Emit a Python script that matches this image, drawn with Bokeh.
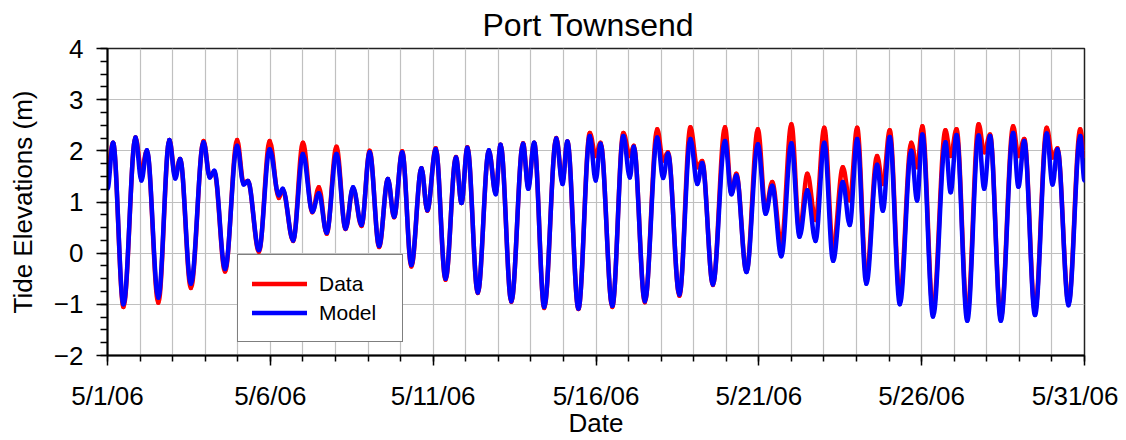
from bokeh.plotting import figure
from bokeh.models import FixedTicker, Range1d, Legend, ColumnDataSource
from bokeh.embed import file_html
from bokeh.resources import INLINE

# time in days after 5/1/06 00:00 (turning points)
days = [0.00, 0.17, 0.49, 0.86, 1.04, 1.21, 1.56, 1.90, 2.08, 2.23,
        2.56, 2.95, 3.14, 3.28, 3.61, 3.98, 4.18, 4.31, 4.65, 4.98,
        5.26, 5.38, 5.70, 6.00, 6.29, 6.49, 6.73, 7.03, 7.31, 7.54,
        7.80, 8.05, 8.34, 8.61, 8.80, 9.05, 9.33, 9.64, 9.82, 10.08,
        10.38, 10.70, 10.87, 11.05, 11.37, 11.71, 11.92, 12.07, 12.40, 12.76,
        12.92, 13.10, 13.41, 13.78, 13.97, 14.12, 14.46, 14.81, 14.99, 15.14,
        15.50, 15.84, 16.04, 16.16, 16.50, 16.88, 17.06, 17.21, 17.56, 17.90,
        18.11, 18.26, 18.59, 18.96, 19.16, 19.31, 19.62, 19.97, 20.21, 20.41,
        20.69, 21.00, 21.25, 21.49, 21.74, 22.01, 22.28, 22.58, 22.79, 23.02,
        23.30, 23.63, 23.81, 24.02, 24.33, 24.68, 24.86, 25.02, 25.35, 25.73,
        25.89, 26.07, 26.40, 26.75, 26.92, 27.10, 27.43, 27.81, 27.97, 28.15,
        28.48, 28.84, 29.02, 29.17, 29.51, 29.87, 30.00]

model = [1.26, 2.16, -1.00, 2.26, 1.42, 2.01, -0.87, 2.21, 1.46, 1.84,
         -0.60, 2.17, 1.48, 1.61, -0.31, 2.10, 1.34, 1.41, 0.06, 2.03,
         1.13, 1.26, 0.25, 1.94, 0.81, 1.17, 0.40, 1.94, 0.48, 1.29,
         0.55, 1.97, 0.14, 1.45, 0.71, 1.97, -0.23, 1.66, 0.84, 2.03,
         -0.50, 1.87, 0.98, 2.06, -0.77, 2.01, 1.15, 2.12, -0.94, 2.14,
         1.26, 2.16, -1.05, 2.24, 1.35, 2.18, -1.08, 2.29, 1.42, 2.14,
         -1.03, 2.29, 1.48, 2.08, -0.94, 2.26, 1.47, 1.95, -0.81, 2.23,
         1.35, 1.76, -0.61, 2.19, 1.15, 1.52, -0.37, 2.13, 0.77, 1.32,
         -0.06, 2.15, 0.32, 1.23, 0.24, 2.16, -0.15, 1.39, 0.55, 2.23,
         -0.60, 1.73, 0.83, 2.27, -1.00, 2.00, 1.03, 2.32, -1.24, 2.17,
         1.19, 2.31, -1.32, 2.30, 1.26, 2.29, -1.32, 2.35, 1.30, 2.19,
         -1.21, 2.34, 1.34, 2.03, -1.02, 2.29, 1.42]

data = [1.60, 2.16, -1.05, 2.26, 1.62, 2.00, -0.97, 2.21, 1.52, 1.84,
        -0.68, 2.19, 1.50, 1.58, -0.36, 2.21, 1.37, 1.41, 0.03, 2.19,
        1.08, 1.24, 0.24, 2.16, 0.80, 1.29, 0.38, 2.08, 0.47, 1.27,
        0.53, 2.00, 0.12, 1.45, 0.70, 1.99, -0.26, 1.66, 0.83, 2.05,
        -0.52, 1.88, 0.98, 2.07, -0.78, 2.00, 1.18, 2.12, -0.95, 2.15,
        1.30, 2.16, -1.07, 2.25, 1.40, 2.18, -1.09, 2.35, 1.90, 2.16,
        -1.05, 2.35, 1.90, 2.10, -0.96, 2.42, 1.81, 1.97, -0.83, 2.46,
        1.68, 1.80, -0.62, 2.46, 1.17, 1.55, -0.36, 2.42, 0.85, 1.39,
        0.18, 2.52, 0.40, 1.55, 0.65, 2.45, 0.10, 1.68, 1.03, 2.45,
        -0.45, 1.90, 1.35, 2.40, -0.85, 2.16, 1.68, 2.48, -1.10, 2.40,
        1.90, 2.42, -1.19, 2.52, 1.97, 2.32, -1.26, 2.48, 1.90, 2.23,
        -1.13, 2.45, 1.87, 2.05, -0.97, 2.42, 1.90]

tick_days = [0, 5, 10, 15, 20, 25, 30]
tick_labels = ["5/1/06", "5/6/06", "5/11/06", "5/16/06", "5/21/06", "5/26/06", "5/31/06"]
y_ticks = [-2, -1, 0, 1, 2, 3, 4]

FONT = "Liberation Sans"


def tide_source(t, v, k=0.36):
    """Curve pieces between successive turning points (flat tangents at each
    high/low water), drawn with Bokeh's bezier glyph."""
    x0, y0, x1, y1, cx0, cy0, cx1, cy1 = [], [], [], [], [], [], [], []
    for i in range(len(t) - 1):
        dt = t[i + 1] - t[i]
        x0.append(t[i]); y0.append(v[i])
        x1.append(t[i + 1]); y1.append(v[i + 1])
        cx0.append(t[i] + k * dt); cy0.append(v[i])
        cx1.append(t[i + 1] - k * dt); cy1.append(v[i + 1])
    return ColumnDataSource(dict(x0=x0, y0=y0, x1=x1, y1=y1,
                                 cx0=cx0, cy0=cy0, cx1=cx1, cy1=cy1))


p = figure(width=1118, height=440, output_backend="svg", toolbar_location=None,
           x_range=Range1d(0, 30), y_range=Range1d(-2, 4),
           min_border_left=107, min_border_right=34, min_border_top=47,
           min_border_bottom=83)

p.title.text = "Port Townsend"
p.title.align = "left"
p.title.offset = 375
p.title.vertical_align = "middle"
p.title.text_font = FONT
p.title.text_font_size = "32px"
p.title.text_font_style = "normal"
p.title.text_color = "black"

p.outline_line_color = "#222222"
p.outline_line_width = 1.5

# axes
p.xaxis.ticker = FixedTicker(ticks=tick_days, minor_ticks=list(range(31)))
p.xaxis.major_label_overrides = {d: l for d, l in zip(tick_days, tick_labels)}
p.yaxis.ticker = FixedTicker(ticks=y_ticks, minor_ticks=[-2 + 0.25 * i for i in range(25)])

for ax in (p.xaxis[0], p.yaxis[0]):
    ax.axis_line_color = "black"
    ax.axis_line_width = 2
    ax.major_tick_line_color = "black"
    ax.minor_tick_line_color = "black"
    ax.major_tick_line_width = 1.5
    ax.minor_tick_line_width = 1.5
    ax.major_tick_in = 0
    ax.minor_tick_in = 0
    ax.major_label_text_font = FONT
    ax.major_label_text_font_size = "26px"
    ax.major_label_text_color = "black"
    ax.axis_label_text_font = FONT
    ax.axis_label_text_font_size = "26px"
    ax.axis_label_text_font_style = "normal"
    ax.axis_label_text_color = "black"

p.xaxis.major_tick_out = 10
p.xaxis.minor_tick_out = 6
p.xaxis.major_label_standoff = 15
p.xaxis.axis_label = "Date"
p.xaxis.axis_label_standoff = -6

p.yaxis.major_tick_out = 11
p.yaxis.minor_tick_out = 7
p.yaxis.major_label_standoff = 13
p.yaxis.axis_label = "Tide Elevations (m)"
p.yaxis.axis_label_standoff = 13

# grid
p.xgrid.ticker = FixedTicker(ticks=list(range(31)))
p.ygrid.ticker = FixedTicker(ticks=y_ticks)
for g in (p.xgrid[0], p.ygrid[0]):
    g.grid_line_color = "#c0c0c0"
    g.grid_line_width = 1.2

r_data = p.bezier(x0="x0", y0="y0", x1="x1", y1="y1", cx0="cx0", cy0="cy0",
                  cx1="cx1", cy1="cy1", source=tide_source(days, data),
                  line_color="#ff0000", line_width=4.5, line_cap="round")
r_model = p.bezier(x0="x0", y0="y0", x1="x1", y1="y1", cx0="cx0", cy0="cy0",
                   cx1="cx1", cy1="cy1", source=tide_source(days, model),
                   line_color="#0000ff", line_width=4.5, line_cap="round")

legend = Legend(items=[("Data", [r_data]), ("Model", [r_model])],
                location=(130, 13))
legend.border_line_color = "black"
legend.border_line_width = 1
legend.background_fill_color = "white"
legend.background_fill_alpha = 1
legend.label_text_font = FONT
legend.label_text_font_size = "21px"
legend.label_text_color = "black"
legend.glyph_width = 55
legend.glyph_height = 29
legend.label_height = 29
legend.label_width = 69
legend.label_standoff = 12
legend.spacing = 0
legend.padding = 14
legend.margin = 0
p.add_layout(legend)

open("out.html", "w").write(file_html(p, INLINE))
